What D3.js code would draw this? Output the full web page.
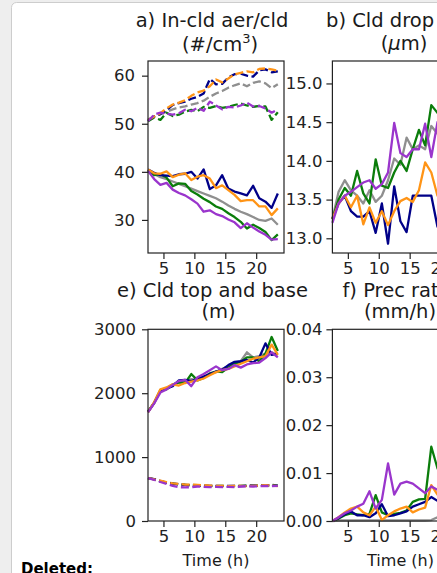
<!DOCTYPE html>
<html><head><meta charset="utf-8">
<script src="https://cdn.jsdelivr.net/npm/d3@7"></script>
<style>html,body{margin:0;padding:0;background:#eeeeee;}svg{display:block;}</style>
</head><body>
<script>
// ---------- data ----------
const hours = [2.5,3.5,4.5,5.5,6.5,7.5,8.5,9.5,10.5,11.5,12.5,13.5,14.5,15.5,16.5,17.5,18.5,19.5,20.5,21.5,22.5,23.5];
const seriesNames = ["grey","green","navy","orange","purple"];
const xTicks = [5,10,15,20];

// a) in-cloud aerosol (solid) and cloud drop number (dashed), #/cm3
const aerGrey   = [40.3,39.5,38.9,38.5,38.0,37.5,37.0,36.5,36.0,35.5,35.0,34.5,33.8,33.0,32.3,31.7,31.2,30.6,30.0,29.8,30.3,29.0];
const aerGreen  = [40.4,39.3,39.5,38.8,37.0,37.6,37.5,36.0,35.3,34.4,33.7,32.8,32.3,31.4,30.6,29.6,28.2,29.0,28.3,27.5,25.8,27.0];
const aerNavy   = [40.5,39.8,39.3,39.2,39.1,39.5,39.6,40.0,38.6,40.5,36.4,37.2,39.3,36.5,35.9,35.5,35.1,37.1,34.5,33.8,32.5,35.5];
const aerOrange = [40.5,39.7,39.6,40.1,38.9,39.4,39.7,38.3,39.0,39.3,38.6,36.6,37.2,36.2,35.2,33.9,34.1,34.1,32.8,32.8,31.0,32.4];
const aerPurple = [40.2,38.5,37.3,37.7,36.3,35.6,35.1,34.3,33.4,31.7,32.0,31.2,30.8,30.1,29.5,28.3,29.3,28.4,27.6,26.9,25.9,26.0];
const cldGrey   = [50.8,51.5,52.0,52.5,53.0,53.4,53.6,54.0,54.3,54.8,55.6,56.3,56.8,57.5,58.0,58.4,57.8,58.5,58.8,58.4,57.4,58.2];
const cldGreen  = [50.5,51.3,50.8,52.3,51.6,51.9,52.5,52.9,52.6,53.5,53.3,53.7,53.3,53.5,53.9,54.2,53.8,53.5,53.7,53.6,50.8,52.4];
const cldNavy   = [50.8,51.5,52.0,52.8,53.9,54.3,54.6,55.2,55.6,56.3,59.3,58.2,58.3,59.6,60.3,60.4,60.0,59.8,61.1,61.3,60.7,60.9];
const cldOrange = [50.8,51.5,52.2,53.2,54.0,54.4,54.9,55.8,56.5,56.9,57.8,59.2,58.6,59.4,60.3,60.6,60.9,60.7,61.4,61.5,61.3,61.0];
const cldPurple = [50.5,51.9,52.3,52.1,51.9,52.2,52.9,52.6,53.3,52.7,54.6,53.8,53.0,53.5,53.4,53.8,54.4,53.6,53.7,53.2,52.3,53.0];
const aTicks = [30,40,50,60];

// b) cloud drop size (um)
const radGrey   = [13.25,13.6,13.75,13.62,13.55,13.45,13.62,13.47,13.55,13.75,14.03,13.95,14.3,14.15,14.2,14.15,14.45,14.35,14.4,14.5,14.45,14.5];
const radGreen  = [13.25,13.5,13.65,13.55,13.87,13.58,13.45,14.02,13.68,13.65,13.85,14.0,13.87,14.15,14.4,14.2,14.72,14.62,14.5,14.6,14.4,14.5];
const radNavy   = [13.25,13.45,13.55,13.35,13.28,13.28,13.35,13.07,13.45,12.93,13.67,13.22,13.08,13.55,13.55,13.55,13.55,13.15,13.3,13.2,13.4,13.3];
const radOrange = [13.25,13.45,13.55,13.4,13.55,13.18,13.4,13.2,13.35,13.17,13.35,13.48,13.52,13.47,13.62,13.98,13.85,13.55,13.6,13.7,13.65,13.7];
const radPurple = [13.2,13.45,13.55,13.6,13.66,13.72,13.75,13.64,13.7,13.85,14.49,14.1,14.05,14.15,14.15,14.48,14.05,14.5,14.4,14.6,14.5,14.55];
const bTicks = [13.0,13.5,14.0,14.5,15.0];

// e) cloud top (solid) and base (dashed), m
const topGrey   = [1710,1850,2040,2080,2140,2170,2180,2220,2210,2260,2300,2330,2380,2420,2450,2500,2640,2560,2580,2620,2640,2600];
const topGreen  = [1710,1850,2050,2060,2130,2170,2160,2300,2200,2240,2310,2340,2330,2400,2470,2490,2560,2560,2500,2620,2880,2660];
const topNavy   = [1710,1850,2040,2070,2110,2200,2210,2190,2220,2260,2300,2340,2370,2440,2490,2500,2520,2480,2560,2780,2600,2620];
const topOrange = [1700,1860,2060,2090,2140,2120,2160,2180,2200,2230,2280,2330,2360,2380,2420,2460,2500,2540,2560,2580,2760,2600];
const topPurple = [1700,1840,2010,2060,2130,2190,2210,2110,2250,2300,2360,2420,2360,2380,2440,2400,2450,2470,2480,2550,2640,2560];
const baseGrey   = [670,655,625,605,590,575,570,565,560,555,550,550,550,545,550,550,550,555,555,560,560,550];
const baseGreen  = [670,650,620,600,585,570,565,555,555,550,545,545,550,545,545,550,555,550,555,560,565,555];
const baseNavy   = [670,655,625,600,585,575,565,560,555,555,550,550,545,550,550,545,550,555,550,555,560,550];
const baseOrange = [670,650,630,610,590,580,570,570,565,560,555,550,550,545,550,550,545,550,555,560,555,545];
const basePurple = [670,645,610,580,550,530,525,530,540,535,530,535,530,535,530,540,545,540,545,550,545,550];
const eTicks = [0,1000,2000,3000];

// f) precipitation rate (mm/h)
const precGrey   = [0,0.0001,0.0001,0.0001,0.0001,0.0001,0.0001,0.0001,0.0001,0.0001,0.0001,0.0001,0.0001,0.0001,0.0001,0.0001,0.0002,0.0008,0.0003,0.0002,0.0003,0.0002];
const precGreen  = [0,0.0005,0.0012,0.0016,0.0014,0.0012,0.0015,0.0054,0.0018,0.0012,0.0015,0.0017,0.0022,0.0040,0.0045,0.0046,0.0155,0.0110,0.0090,0.0080,0.0100,0.0090];
const precNavy   = [0,0.0006,0.0014,0.0020,0.0012,0.0012,0.0008,0.0016,0.0035,0.0010,0.0012,0.0016,0.0020,0.0030,0.0035,0.0040,0.0050,0.0042,0.0050,0.0045,0.0055,0.0050];
const precOrange = [0,0.0008,0.0018,0.0026,0.0030,0.0018,0.0012,0.0030,0.0002,0.0012,0.0020,0.0026,0.0030,0.0018,0.0024,0.0028,0.0075,0.0055,0.0060,0.0050,0.0060,0.0055];
const precPurple = [0,0.0008,0.0016,0.0022,0.0030,0.0036,0.0062,0.0026,0.0044,0.0120,0.0055,0.0078,0.0082,0.0078,0.0068,0.0058,0.0072,0.0065,0.0070,0.0060,0.0080,0.0070];
const fTicks = [0,0.01,0.02,0.03,0.04];

// ---------- style ----------
const colors = {grey:"#8f8f8f", green:"#0b7d0b", navy:"#000088", orange:"#ff9416", purple:"#9a35cc"};
const W = 437, H = 573;
const FONT = "DejaVu Sans, sans-serif";
const TICKFS = 16.5, TITLEFS = 19.5;

const svg = d3.select("body").append("svg").attr("width", W).attr("height", H)
  .attr("font-family", FONT);

// page background and card
svg.append("rect").attr("width", W).attr("height", H).attr("fill", "#eeeeee");
svg.append("rect").attr("x", 11.5).attr("y", 2.5).attr("width", 600).attr("height", 700)
  .attr("rx", 5).attr("fill", "#ffffff").attr("stroke", "#cdcdcd").attr("stroke-width", 1);

function panel(cfg) {
  const x = d3.scaleLinear().domain([2.5, 24.5]).range([cfg.left, cfg.left + 136]);
  const y = d3.scaleLinear().domain(cfg.ydom).range([cfg.bottom, cfg.top]);
  const g = svg.append("g");
  const line = d3.line().x((d, i) => x(hours[i])).y(d => y(d));
  cfg.groups.forEach(grp => {
    seriesNames.forEach(name => {
      g.append("path").datum(grp.data[name]).attr("d", line)
        .attr("fill", "none").attr("stroke", colors[name]).attr("stroke-width", 2.3)
        .attr("stroke-linejoin", "round")
        .attr("stroke-dasharray", grp.dashed ? "8,3.4" : null);
    });
  });
  // frame
  g.append("rect").attr("x", x.range()[0]).attr("y", cfg.top)
    .attr("width", x.range()[1] - x.range()[0]).attr("height", cfg.bottom - cfg.top)
    .attr("fill", "none").attr("stroke", "#222").attr("stroke-width", 1.2);
  const yAxis = d3.axisLeft(y).tickValues(cfg.yticks).tickFormat(cfg.fmt).tickSize(6).tickPadding(cfg.ypad);
  const ya = g.append("g").attr("transform", `translate(${x.range()[0]},0)`).call(yAxis);
  const xAxis = d3.axisBottom(x).tickValues(xTicks).tickFormat(d3.format("d")).tickSize(6).tickPadding(3);
  const xa = g.append("g").attr("transform", `translate(0,${cfg.bottom})`).call(xAxis);
  [ya, xa].forEach(a => {
    a.select(".domain").remove();
    a.selectAll("line").attr("stroke", "#222").attr("stroke-width", 1.2);
    a.selectAll("text").attr("fill", "#222").attr("font-size", TICKFS).attr("font-family", FONT);
  });
  return {x, y, g};
}

panel({left:148, top:61, bottom:253, ydom:[23.12, 63.05], yticks:aTicks, fmt:d3.format("d"), ypad:7,
  groups:[{dashed:false, data:{grey:aerGrey, green:aerGreen, navy:aerNavy, orange:aerOrange, purple:aerPurple}},
          {dashed:true, data:{grey:cldGrey, green:cldGreen, navy:cldNavy, orange:cldOrange, purple:cldPurple}}]});
panel({left:332.4, top:61, bottom:253, ydom:[12.81, 15.29], yticks:bTicks, fmt:d3.format(".1f"), ypad:4,
  groups:[{dashed:false, data:{grey:radGrey, green:radGreen, navy:radNavy, orange:radOrange, purple:radPurple}}]});
panel({left:148, top:329.3, bottom:521, ydom:[0, 3000], yticks:eTicks, fmt:d3.format("d"), ypad:6,
  groups:[{dashed:false, data:{grey:topGrey, green:topGreen, navy:topNavy, orange:topOrange, purple:topPurple}},
          {dashed:true, data:{grey:baseGrey, green:baseGreen, navy:baseNavy, orange:baseOrange, purple:basePurple}}]});
panel({left:332.4, top:329.3, bottom:521, ydom:[0, 0.04], yticks:fTicks, fmt:d3.format(".2f"), ypad:4,
  groups:[{dashed:false, data:{grey:precGrey, green:precGreen, navy:precNavy, orange:precOrange, purple:precPurple}}]});

// titles
function txt(x, y, s, anchor, size) {
  return svg.append("text").attr("x", x).attr("y", y).attr("text-anchor", anchor || "middle")
    .attr("font-size", size || TITLEFS).attr("fill", "#1a1a1a").text(s);
}
txt(212, 27, "a) In-cld aer/cld");
const t2 = txt(220, 51, "(#/cm");
t2.append("tspan").attr("font-size", 13).attr("dy", -8).text("3");
t2.append("tspan").attr("dy", 8).text(")");
txt(326, 27, "b) Cld drop size", "start");
const t3 = txt(404, 50, "(");
t3.append("tspan").attr("font-style", "italic").text("\u03bc");
t3.append("tspan").text("m)");
txt(212.5, 297, "e) Cld top and base");
txt(218.5, 318, "(m)");
txt(342.5, 297, "f) Prec rate (sfc)", "start");
txt(400, 318, "(mm/h)");
txt(216, 566, "Time (h)", "middle", 16);
txt(400.5, 566, "Time (h)", "middle", 16);

svg.append("text").attr("x", 21).attr("y", 573.5).attr("font-weight", "bold")
  .attr("font-size", 15).attr("fill", "#000").text("Deleted:");
</script>
</body></html>
